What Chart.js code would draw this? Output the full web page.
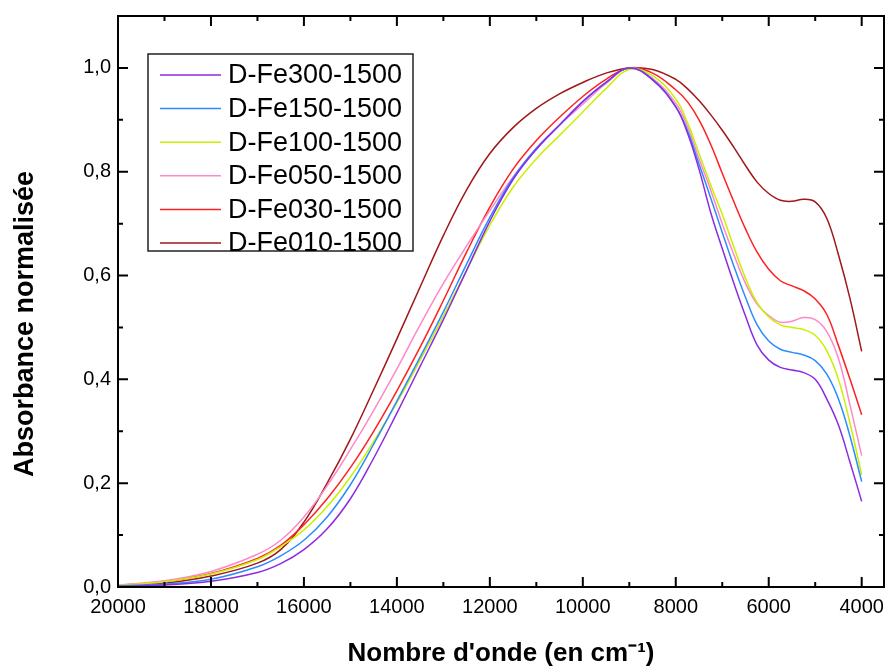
<!DOCTYPE html>
<html>
<head>
<meta charset="utf-8">
<title>Absorbance normalisée</title>
<script src="https://cdn.jsdelivr.net/npm/chart.js@4.4.0/dist/chart.umd.min.js"></script>
<style>
  html, body { margin: 0; padding: 0; background: #fff; }
  #wrap { width: 887px; height: 668px; }
</style>
</head>
<body>
<div id="wrap"><canvas id="chart" width="887" height="668"></canvas></div>
<script>
// Nombre d'onde (cm-1) des points
const waveNumbers = [20000, 19000, 18000, 17000, 16500, 16000, 15500, 15000, 14500, 14000, 13500, 13000, 12500, 12000, 11500, 11000, 10500, 10000, 9500, 9000,
  8500, 8000, 7750, 7500, 7250, 7000, 6750, 6500, 6250, 6000, 5750, 5500, 5250, 5000, 4750, 4500, 4250, 4000];

// Absorbance normalisée de chaque échantillon
const fe300 = [0.001, 0.004, 0.011, 0.028, 0.045, 0.072, 0.112, 0.17, 0.248, 0.335, 0.425, 0.515, 0.61, 0.705, 0.785, 0.843, 0.89, 0.935, 0.972, 1.0,
  0.977, 0.925, 0.875, 0.805, 0.722, 0.652, 0.585, 0.522, 0.466, 0.437, 0.423, 0.418, 0.413, 0.40, 0.362, 0.312, 0.24, 0.165];
const fe150 = [0.002, 0.006, 0.015, 0.039, 0.06, 0.09, 0.135, 0.197, 0.275, 0.358, 0.443, 0.53, 0.622, 0.712, 0.788, 0.845, 0.89, 0.935, 0.972, 1.0,
  0.978, 0.925, 0.88, 0.815, 0.75, 0.683, 0.618, 0.558, 0.505, 0.474, 0.458, 0.452, 0.447, 0.436, 0.41, 0.362, 0.29, 0.203];
const fe100 = [0.003, 0.01, 0.025, 0.053, 0.078, 0.11, 0.155, 0.212, 0.28, 0.355, 0.437, 0.522, 0.61, 0.697, 0.77, 0.825, 0.87, 0.915, 0.96, 0.997,
  0.985, 0.94, 0.895, 0.835, 0.775, 0.718, 0.655, 0.595, 0.548, 0.52, 0.505, 0.50, 0.496, 0.485, 0.455, 0.40, 0.315, 0.216];
const fe050 = [0.004, 0.012, 0.03, 0.063, 0.09, 0.135, 0.195, 0.265, 0.34, 0.42, 0.505, 0.585, 0.657, 0.725, 0.79, 0.845, 0.89, 0.93, 0.97, 1.0,
  0.98, 0.932, 0.888, 0.825, 0.765, 0.70, 0.64, 0.585, 0.545, 0.523, 0.51, 0.512, 0.519, 0.515, 0.492, 0.44, 0.35, 0.253];
const fe030 = [0.003, 0.01, 0.026, 0.055, 0.08, 0.12, 0.17, 0.23, 0.30, 0.378, 0.462, 0.552, 0.645, 0.732, 0.805, 0.86, 0.905, 0.945, 0.978, 1.0,
  0.99, 0.958, 0.935, 0.90, 0.853, 0.797, 0.742, 0.69, 0.645, 0.612, 0.59, 0.58, 0.571, 0.555, 0.525, 0.465, 0.40, 0.332];
const fe010 = [0.002, 0.007, 0.021, 0.046, 0.072, 0.125, 0.2, 0.285, 0.38, 0.478, 0.578, 0.677, 0.765, 0.835, 0.885, 0.922, 0.95, 0.972, 0.99, 1.0,
  0.997, 0.978, 0.96, 0.937, 0.91, 0.88, 0.847, 0.812, 0.78, 0.758, 0.745, 0.743, 0.747, 0.742, 0.71, 0.64, 0.555, 0.454];

const seriesLabels = ['D-Fe300-1500', 'D-Fe150-1500', 'D-Fe100-1500', 'D-Fe050-1500', 'D-Fe030-1500', 'D-Fe010-1500'];
const seriesColors = ['#8B2BE2', '#2A8CFF', '#C8F000', '#FF88C8', '#FF2020', '#A01818'];

// Graduations
const xTicks = [20000, 18000, 16000, 14000, 12000, 10000, 8000, 6000, 4000];
const xMinorTicks = [19000, 17000, 15000, 13000, 11000, 9000, 7000, 5000];
const yTicks = [0, 0.2, 0.4, 0.6, 0.8, 1.0];
const yMinorTicks = [0.1, 0.3, 0.5, 0.7, 0.9];

const FONT = "'Liberation Sans', Arial, sans-serif";

const allSeries = [fe300, fe150, fe100, fe050, fe030, fe010];
const datasets = allSeries.map((values, i) => ({
  label: seriesLabels[i],
  data: waveNumbers.map((w, k) => ({ x: w, y: values[k] })),
  borderColor: seriesColors[i],
  borderWidth: 1.5,
  pointRadius: 0,
  fill: false,
  tension: 0.4
}));

// Cadre, graduations vers l'intérieur, titre Y et légende
const framePlugin = {
  id: 'frame',
  afterDatasetsDraw(chart) {
    const ctx = chart.ctx;
    const a = chart.chartArea;
    const xs = chart.scales.x;
    const ys = chart.scales.y;
    ctx.save();
    ctx.strokeStyle = '#000';
    ctx.lineWidth = 2;
    ctx.strokeRect(a.left, a.top, a.right - a.left, a.bottom - a.top);

    ctx.beginPath();
    const xMark = (v, len) => {
      const px = xs.getPixelForValue(v);
      ctx.moveTo(px, a.bottom); ctx.lineTo(px, a.bottom - len);
      ctx.moveTo(px, a.top); ctx.lineTo(px, a.top + len);
    };
    const yMark = (v, len) => {
      const py = ys.getPixelForValue(v);
      ctx.moveTo(a.left, py); ctx.lineTo(a.left + len, py);
      ctx.moveTo(a.right, py); ctx.lineTo(a.right - len, py);
    };
    xTicks.forEach(v => xMark(v, 10));
    xMinorTicks.forEach(v => xMark(v, 5));
    yTicks.forEach(v => yMark(v, 10));
    yMinorTicks.forEach(v => yMark(v, 5));
    ctx.stroke();

    // titre de l'axe Y
    ctx.save();
    ctx.translate(26, 324);
    ctx.rotate(-Math.PI / 2);
    ctx.fillStyle = '#000';
    ctx.font = 'bold 27px ' + FONT;
    ctx.textAlign = 'center';
    ctx.textBaseline = 'middle';
    ctx.fillText('Absorbance normalisée', 0, 0);
    ctx.restore();

    // légende
    const bx = 148, by = 54, bw = 265, bh = 197;
    ctx.fillStyle = '#fff';
    ctx.fillRect(bx, by, bw, bh);
    ctx.lineWidth = 1.5;
    ctx.strokeStyle = '#222';
    ctx.strokeRect(bx, by, bw, bh);
    ctx.font = '27px ' + FONT;
    ctx.textBaseline = 'middle';
    ctx.textAlign = 'left';
    chart.data.datasets.forEach((ds, i) => {
      const cy = 75 + i * 33.6;
      ctx.strokeStyle = ds.borderColor;
      ctx.lineWidth = 1.5;
      ctx.beginPath();
      ctx.moveTo(160, cy);
      ctx.lineTo(221, cy);
      ctx.stroke();
      ctx.fillStyle = '#000';
      ctx.fillText(ds.label, 228, cy + 1);
    });
    ctx.restore();
  }
};

new Chart(document.getElementById('chart'), {
  type: 'line',
  data: { datasets: datasets },
  plugins: [framePlugin],
  options: {
    responsive: false,
    animation: false,
    layout: { padding: { top: 16, right: 3, left: 0, bottom: 0 } },
    plugins: {
      legend: { display: false },
      tooltip: { enabled: false }
    },
    scales: {
      x: {
        type: 'linear',
        reverse: true,
        min: 3520,
        max: 20000,
        afterBuildTicks: scale => { scale.ticks = xTicks.map(v => ({ value: v })); },
        afterFit: scale => {
          scale.height = 81;
          scale.paddingLeft = 0;
          scale.paddingRight = 0;
        },
        grid: { display: false, drawTicks: false },
        border: { display: false },
        ticks: {
          padding: 8,
          color: '#000',
          font: { family: FONT, size: 20 },
          maxRotation: 0,
          callback: v => String(v)
        },
        title: {
          display: true,
          text: "Nombre d'onde (en cm⁻¹)",
          color: '#000',
          font: { family: FONT, size: 26, weight: 'bold', lineHeight: 1.1 },
          padding: { top: 0, bottom: 0 }
        }
      },
      y: {
        min: 0,
        max: 1.1,
        afterBuildTicks: scale => { scale.ticks = yTicks.map(v => ({ value: v })); },
        afterFit: scale => {
          scale.width = 118;
          scale.paddingTop = 0;
          scale.paddingBottom = 0;
        },
        grid: { display: false, drawTicks: false },
        border: { display: false },
        ticks: {
          padding: 7,
          color: '#000',
          font: { family: FONT, size: 20 },
          callback: v => v.toFixed(1).replace('.', ',')
        }
      }
    }
  }
});
</script>
</body>
</html>
